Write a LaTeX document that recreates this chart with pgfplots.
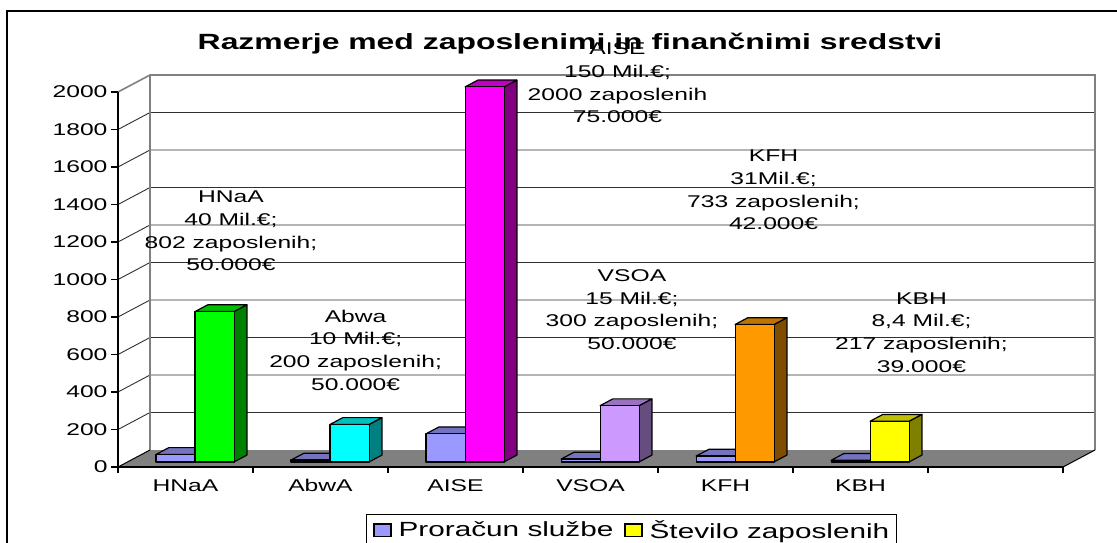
\documentclass[border=0pt]{standalone}
\usepackage{fontspec}
\setmainfont{Liberation Sans}[FakeStretch=1.45]
\usepackage{pgfplots}
\usepackage{pgfplotstable}
\pgfplotsset{compat=1.18}

\definecolor{bf}{HTML}{9999FF}\definecolor{bt}{HTML}{7373BF}\definecolor{bs}{HTML}{4D4D80}
\definecolor{e0f}{HTML}{00FF00}\definecolor{e0t}{HTML}{00BF00}\definecolor{e0s}{HTML}{008000}
\definecolor{e1f}{HTML}{00FFFF}\definecolor{e1t}{HTML}{00BFBF}\definecolor{e1s}{HTML}{008080}
\definecolor{e2f}{HTML}{FF00FF}\definecolor{e2t}{HTML}{BF00BF}\definecolor{e2s}{HTML}{800080}
\definecolor{e3f}{HTML}{CC99FF}\definecolor{e3t}{HTML}{9973BF}\definecolor{e3s}{HTML}{664D80}
\definecolor{e4f}{HTML}{FF9900}\definecolor{e4t}{HTML}{BF7300}\definecolor{e4s}{HTML}{804D00}
\definecolor{e5f}{HTML}{FFFF00}\definecolor{e5t}{HTML}{BFBF00}\definecolor{e5s}{HTML}{808000}
\definecolor{floorc}{HTML}{808080}
\definecolor{gridc}{HTML}{303030}

% budget in Mil. EUR, employees
\pgfplotstableread{
i budget emp
0 40 802
1 10 200
2 150 2000
3 15 300
4 31 733
5 8.4 217
}\data

% geometry (data units): floor depth, bar front plane, bar depth, bar width
\def\DX{0.237037}\def\DY{90.6667}
\def\OX{0.071111}\def\OY{27.2}
\def\BDX{0.094815}\def\BDY{36.267}
\def\BW{0.288889}
\def\XBL{-0.262963}\def\XBR{6.737037}

\pgfplotsset{barline/.style={forget plot, draw=black, line width=1.2pt, line join=round}}

\newcommand\cube[6]{%
 \pgfmathsetmacro\ya{\OY}%
 \pgfmathsetmacro\yb{\OY+#3}%
 \pgfmathsetmacro\yc{\OY+#3+\BDY}%
 \pgfmathsetmacro\yd{\OY+\BDY}%
 \pgfmathsetmacro\xc{#2+\BDX}%
 \pgfmathsetmacro\xd{#1+\BDX}%
 \edef\tmp{%
  \noexpand\addplot[barline, fill=#6] coordinates {(#2,\ya) (\xc,\yd) (\xc,\yc) (#2,\yb)} -- cycle;
  \noexpand\addplot[barline, fill=#5] coordinates {(#1,\yb) (#2,\yb) (\xc,\yc) (\xd,\yc)} -- cycle;
  \noexpand\addplot[barline, fill=#4] coordinates {(#1,\ya) (#2,\ya) (#2,\yb) (#1,\yb)} -- cycle;
 }\tmp
}

\begin{document}
\begin{tikzpicture}
\clip (0pt,0pt) rectangle (1117pt,-543pt);
\fill[white] (0pt,0pt) rectangle (1117pt,-543pt);
\draw[line width=2pt] (7pt,-11pt) rectangle (1135pt,-570pt);
\node[font=\fontsize{22}{26}\selectfont\bfseries] at (570pt,-44pt) {Razmerje med zaposlenimi in finančnimi sredstvi};
\begin{axis}[
  at={(118pt,-467pt)}, anchor=south west,
  scale only axis, width=945pt, height=375pt,
  xmin=-0.5, xmax=6.5, ymin=0, ymax=2000,
  clip=false, axis on top,
  axis x line*=bottom, axis y line*=left,
  axis line style={black, line width=1.2pt},
  ytick={0,200,...,2000},
  xtick={0,...,5}, xticklabels={HNaA,AbwA,AISE,VSOA,KFH,KBH},
  xtick style={draw=none},
  ytick style={black, line width=1.2pt},
  tick align=outside, major tick length=7pt,
  ticklabel style={font=\fontsize{17}{20}\selectfont},
  xticklabel style={yshift=-2pt},
  /pgf/number format/assume math mode=true,
  /pgf/number format/1000 sep={},
  legend image code/.code={\draw[#1] (0pt,-6.25pt) rectangle (17pt,6.25pt);},
  legend style={at={(axis description cs:0.2624,-0.1253)}, anchor=north west,
    legend columns=2, draw=black, line width=1pt,
    font=\fontsize{20.5}{24}\selectfont,
    inner xsep=7pt, inner ysep=6pt,
    nodes={inner sep=0pt},
    /tikz/every odd column/.append style={column sep=7pt},
    /tikz/every even column/.append style={column sep=11pt}},
]
% back wall grid and left wall diagonals
\pgfplotsinvokeforeach{200,400,...,1800}{
  \pgfmathsetmacro\yy{#1+\DY}
  \edef\tmp{\noexpand\addplot[forget plot, gridc, line width=0.9pt] coordinates {(-0.5,#1) (\XBL,\yy) (\XBR,\yy)};}\tmp
}
\addplot[forget plot, floorc, line width=1.6pt] coordinates {(-0.5,2000) (\XBL,2090.667) (\XBR,2090.667) (\XBR,90.667)};
\addplot[forget plot, floorc, line width=1.6pt] coordinates {(\XBL,90.667) (\XBL,2090.667)};
% floor
\addplot[forget plot, fill=floorc, draw=none] coordinates {(-0.5,0) (6.5,0) (\XBR,90.667) (\XBL,90.667)} -- cycle;
\addplot[forget plot, black, line width=1pt] coordinates {(-0.5,0) (\XBL,90.667)};
\addplot[forget plot, black, line width=1pt] coordinates {(6.5,0) (\XBR,90.667)};
% category separator tick marks
\addplot[forget plot, ycomb, black, line width=1.2pt] coordinates {(-0.5,-32) (0.5,-32) (1.5,-32) (2.5,-32) (3.5,-32) (4.5,-32) (5.5,-32) (6.5,-32)};
% bars
\pgfplotsinvokeforeach{0,...,5}{
  \pgfplotstablegetelem{#1}{budget}\of\data \let\vb\pgfplotsretval
  \pgfplotstablegetelem{#1}{emp}\of\data \let\ve\pgfplotsretval
  \pgfmathsetmacro\xl{#1+\OX-\BW}
  \pgfmathsetmacro\xm{#1+\OX}
  \pgfmathsetmacro\xr{#1+\OX+\BW}
  \cube{\xl}{\xm}{\vb}{bf}{bt}{bs}
  \cube{\xm}{\xr}{\ve}{e#1f}{e#1t}{e#1s}
}
% data labels
\begin{scope}[every node/.style={align=center, font=\fontsize{17}{22.7}\selectfont}]
\node at (axis cs:0.337,1258.7) {HNaA\\40 Mil.€;\\802 zaposlenih;\\50.000€};
\node at (axis cs:1.260,624) {Abwa\\10 Mil.€;\\200 zaposlenih;\\50.000€};
\node at (axis cs:3.200,2048) {AISE\\150 Mil.€;\\2000 zaposlenih\\75.000€};
\node at (axis cs:3.307,840) {VSOA\\15 Mil.€;\\300 zaposlenih;\\50.000€};
\node at (axis cs:4.356,1477) {KFH\\31Mil.€;\\733 zaposlenih;\\42.000€};
\node at (axis cs:5.452,717) {KBH\\8,4 Mil.€;\\217 zaposlenih;\\39.000€};
\end{scope}
\addlegendimage{fill=bf, draw=black, line width=1.2pt}
\addlegendentry{Proračun službe}
\addlegendimage{fill=e5f, draw=black, line width=1.2pt}
\addlegendentry{Število zaposlenih}
\end{axis}
\end{tikzpicture}
\end{document}
